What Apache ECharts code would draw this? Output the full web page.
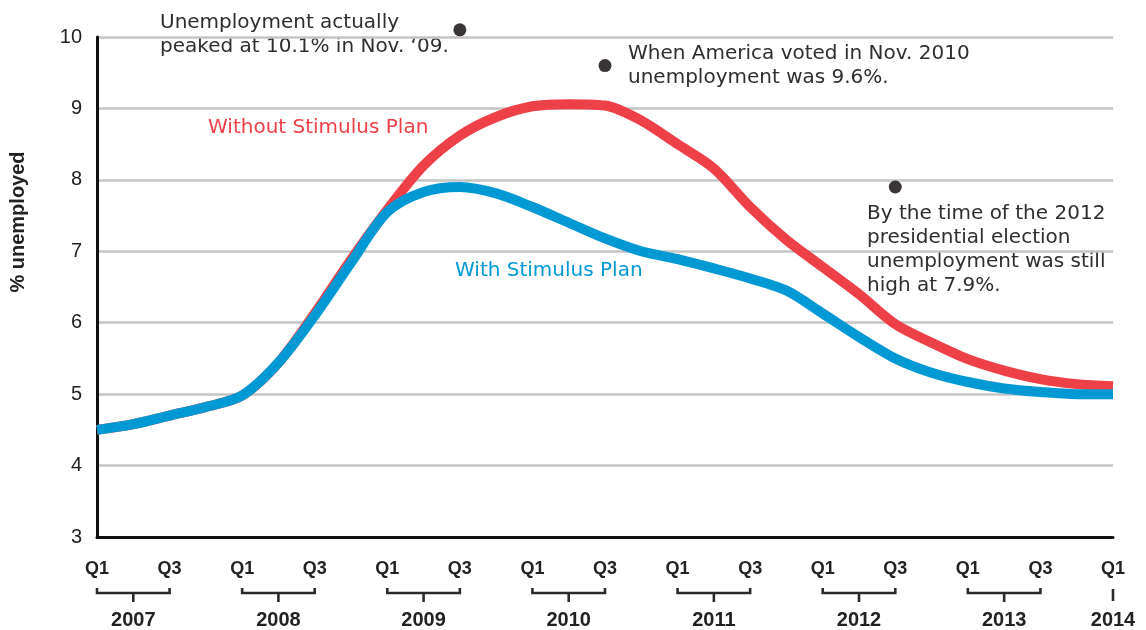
<!DOCTYPE html>
<html>
<head>
<meta charset="utf-8">
<script src="https://cdn.jsdelivr.net/npm/echarts@6/dist/echarts.min.js"></script>
<style>
  html, body { margin: 0; padding: 0; background: #fff; }
  #chart { width: 1146px; height: 630px; }
</style>
</head>
<body>
<div id="chart"></div>
<script>
// Quarterly unemployment rate projections, 2007 Q1 – 2014 Q1
const quarters = [];
const years = ['2007', '2008', '2009', '2010', '2011', '2012', '2013', '2014'];
years.forEach(function (y) {
  ['Q1', 'Q2', 'Q3', 'Q4'].forEach(function (q) {
    if (y !== '2014' || q === 'Q1') quarters.push(q);
  });
});

const withoutStimulus = [
  4.50, 4.58, 4.70, 4.82, 4.98, 5.44, 6.13, 6.88,
  7.58, 8.20, 8.62, 8.88, 9.03, 9.06, 9.04, 8.83,
  8.50, 8.16, 7.62, 7.16, 6.78, 6.40, 5.98, 5.72,
  5.49, 5.33, 5.21, 5.14, 5.11
];
const withStimulus = [
  4.50, 4.58, 4.70, 4.82, 4.98, 5.44, 6.10, 6.84,
  7.55, 7.83, 7.90, 7.81, 7.62, 7.40, 7.18, 7.00,
  6.89, 6.76, 6.62, 6.45, 6.13, 5.80, 5.50, 5.30,
  5.17, 5.08, 5.03, 5.00, 5.00
];
const yTicks = ['3', '4', '5', '6', '7', '8', '9', '10'];

// Actual readings highlighted with dots: [quarter index, rate]
const actualPoints = [[10, 10.1], [14, 9.6], [22, 7.9]];

const notes = [
  'Unemployment actually\npeaked at 10.1% in Nov. \u201809.',
  'When America voted in Nov. 2010\nunemployment was 9.6%.',
  'By the time of the 2012\npresidential election\nunemployment was still\nhigh at 7.9%.'
];
const seriesNames = ['Without Stimulus Plan', 'With Stimulus Plan'];

const RED = '#EE4047';
const BLUE = '#0099D3';
const INK = '#2e2e2e';
const SANS = '"DejaVu Sans", sans-serif';
const BOLD = '"Liberation Sans", Arial, sans-serif';

// Year brackets below the quarter labels
const bracketData = years.map(function (y, k) { return [k * 4, 3, y]; });

function renderBracket(params, api) {
  const i = api.value(0);
  const p = api.coord([i, 3]);
  const x1 = p[0], y0 = p[1];
  const label = years[params.dataIndex];
  const lineStyle = { stroke: '#2b2b2b', lineWidth: 2.6, fill: null };
  const children = [];
  let xc = x1;
  if (i + 2 < quarters.length) {
    const x3 = api.coord([i + 2, 3])[0];
    xc = api.coord([i + 1, 3])[0];
    children.push({
      type: 'polyline',
      shape: { points: [[x1, y0 + 51], [x1, y0 + 56], [x3, y0 + 56], [x3, y0 + 51]] },
      style: lineStyle
    });
    children.push({
      type: 'line',
      shape: { x1: xc, y1: y0 + 56, x2: xc, y2: y0 + 65 },
      style: lineStyle
    });
  } else {
    children.push({
      type: 'line',
      shape: { x1: x1, y1: y0 + 52, x2: x1, y2: y0 + 64 },
      style: lineStyle
    });
  }
  children.push({
    type: 'text',
    style: {
      text: label, x: xc, y: y0 + 83,
      align: 'center', verticalAlign: 'middle',
      font: 'bold 20px ' + BOLD, fill: '#222'
    }
  });
  return { type: 'group', children: children };
}

const chart = echarts.init(document.getElementById('chart'), null, { renderer: 'canvas' });

chart.setOption({
  animation: false,
  backgroundColor: '#ffffff',
  grid: { left: 97, right: 33, top: 37, bottom: 93 },
  xAxis: {
    type: 'category',
    data: quarters,
    boundaryGap: false,
    axisLine: { show: true, lineStyle: { color: '#111', width: 3 } },
    axisTick: { show: false },
    axisLabel: {
      interval: 1,
      margin: 23,
      color: '#222',
      fontFamily: BOLD,
      fontWeight: 'bold',
      fontSize: 18
    },
    splitLine: { show: false }
  },
  yAxis: {
    type: 'value',
    min: 3,
    max: 10,
    interval: 1,
    axisLine: { show: true, lineStyle: { color: '#111', width: 3 } },
    axisTick: { show: false },
    axisLabel: {
      margin: 15,
      color: '#222',
      fontFamily: BOLD,
      fontSize: 20,
      formatter: function (v) { return yTicks[v - 3]; }
    },
    splitLine: { show: true, lineStyle: { color: '#c4c4c4', width: 2.5 } }
  },
  series: [
    {
      name: seriesNames[0],
      type: 'line',
      data: withoutStimulus,
      smooth: 0.3,
      showSymbol: false,
      lineStyle: { color: RED, width: 10, cap: 'butt' },
      z: 3
    },
    {
      name: seriesNames[1],
      type: 'line',
      data: withStimulus,
      smooth: 0.3,
      showSymbol: false,
      lineStyle: { color: BLUE, width: 10, cap: 'butt' },
      z: 4
    },
    {
      type: 'scatter',
      data: actualPoints,
      symbolSize: 13,
      clip: false,
      itemStyle: { color: '#3a3536', opacity: 1 },
      z: 6
    },
    {
      type: 'custom',
      data: bracketData,
      renderItem: renderBracket,
      clip: false,
      silent: true,
      z: 5
    }
  ],
  graphic: [
    {
      type: 'text', left: 160, top: 11,
      style: { text: notes[0], font: '20px ' + SANS, fill: INK, lineHeight: 24 }
    },
    {
      type: 'text', left: 628, top: 42,
      style: { text: notes[1], font: '20px ' + SANS, fill: INK, lineHeight: 24 }
    },
    {
      type: 'text', left: 867, top: 202,
      style: { text: notes[2], font: '20px ' + SANS, fill: INK, lineHeight: 24 }
    },
    {
      type: 'text', left: 208, top: 116,
      style: { text: seriesNames[0], font: '20px ' + SANS, fill: RED, lineHeight: 24 }
    },
    {
      type: 'text', left: 455, top: 259,
      style: { text: seriesNames[1], font: '20px ' + SANS, fill: BLUE, lineHeight: 24 }
    },
    {
      type: 'text',
      x: 18, y: 222,
      rotation: Math.PI / 2,
      style: {
        text: '% unemployed', x: 0, y: 0,
        align: 'center', verticalAlign: 'middle',
        font: 'bold 20px ' + BOLD, fill: '#222'
      }
    }
  ]
});
</script>
</body>
</html>
